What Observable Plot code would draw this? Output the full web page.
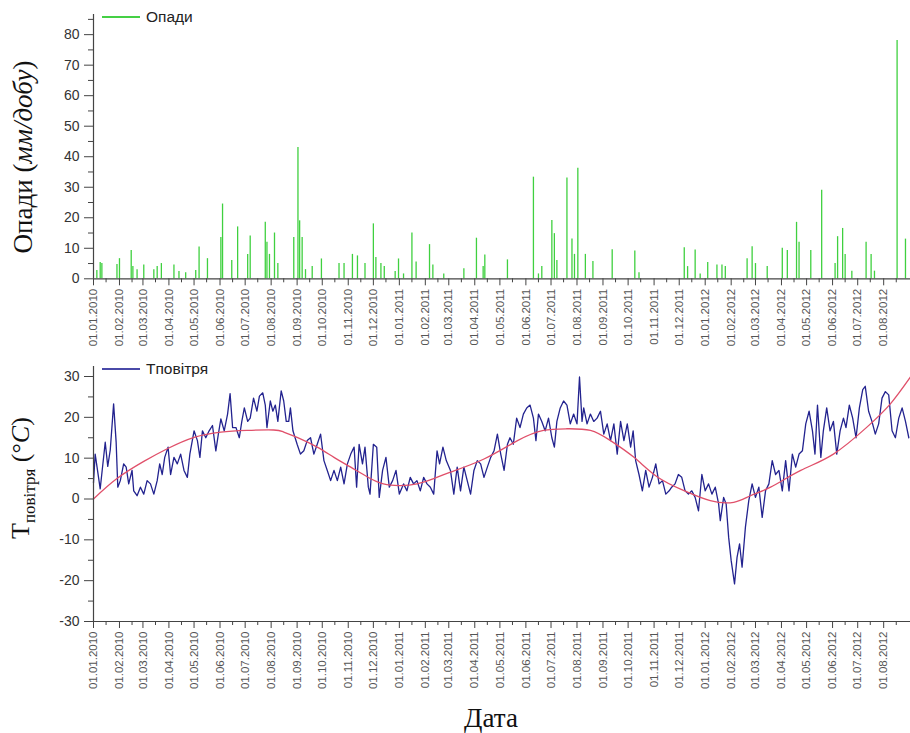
<!DOCTYPE html>
<html>
<head>
<meta charset="utf-8">
<script src="https://cdn.jsdelivr.net/npm/d3@7"></script>
<script src="https://cdn.jsdelivr.net/npm/@observablehq/plot@0.6"></script>
<style>
  body { margin: 0; background: #fff; }
  #root { position: relative; width: 910px; height: 733px; background: #fff; overflow: hidden; }
  .panel { position: absolute; left: 0; }
  .ytitle { position: absolute; transform: translate(-50%, -50%) rotate(-90deg); white-space: nowrap;
            font-family: "Liberation Serif", "Times New Roman", serif; color: #111; }
  .legend { position: absolute; font-family: "Liberation Sans", Arial, sans-serif; font-size: 15.5px; color: #222;
            display: flex; align-items: center; white-space: nowrap; }
  .legend span.sw { display: inline-block; width: 38px; height: 1.5px; margin-right: 6px; }
  #xtitle { position: absolute; left: 491px; top: 718px; transform: translate(-50%, -50%);
            font-family: "Liberation Serif", "Times New Roman", serif; font-size: 27px; color: #111; }
</style>
</head>
<body>
<div id="root">
  <div id="topPanel" class="panel" style="top:0"></div>
  <div id="bottomPanel" class="panel" style="top:360px"></div>
  <div class="ytitle" style="left:23px; top:157px; font-size:27px">Опади (<i>мм/добу</i>)</div>
  <div class="ytitle" style="left:23px; top:478px; font-size:26px">T<sub style="font-size:17px">повітря</sub> (°<i>C</i>)</div>
  <div class="legend" style="left:102px; top:8px"><span class="sw" style="background:#45d045"></span>Опади</div>
  <div class="legend" style="left:102px; top:360px"><span class="sw" style="background:#4a4aa8"></span>Tповітря</div>
  <div id="xtitle">Дата</div>
</div>
<script>
// ---- data ----
const startLabel = "01.01.2010";
const endLabel = "02.09.2012";
const monthLabels = [
  "01.01.2010","01.02.2010","01.03.2010","01.04.2010","01.05.2010","01.06.2010","01.07.2010","01.08.2010",
  "01.09.2010","01.10.2010","01.11.2010","01.12.2010","01.01.2011","01.02.2011","01.03.2011","01.04.2011",
  "01.05.2011","01.06.2011","01.07.2011","01.08.2011","01.09.2011","01.10.2011","01.11.2011","01.12.2011",
  "01.01.2012","01.02.2012","01.03.2012","01.04.2012","01.05.2012","01.06.2012","01.07.2012","01.08.2012"
];
const minorLabels = [
  "16.01.2010","16.02.2010","16.03.2010","16.04.2010","16.05.2010","16.06.2010","16.07.2010","16.08.2010",
  "16.09.2010","16.10.2010","16.11.2010","16.12.2010","16.01.2011","16.02.2011","16.03.2011","16.04.2011",
  "16.05.2011","16.06.2011","16.07.2011","16.08.2011","16.09.2011","16.10.2011","16.11.2011","16.12.2011",
  "16.01.2012","16.02.2012","16.03.2012","16.04.2012","16.05.2012","16.06.2012","16.07.2012","16.08.2012"
];
const precipTicks = [0, 10, 20, 30, 40, 50, 60, 70, 80];
const precipMinor = [5, 15, 25, 35, 45, 55, 65, 75, 85];
const tempTicks = [-30, -20, -10, 0, 10, 20, 30];
const tempMinor = [-25, -15, -5, 5, 15, 25];

// days since 01.01.2010
const precipDays = [4,8,10,28,31,45,47,52,60,72,76,81,96,102,110,122,126,136,152,154,165,172,184,187,205,207,210,216,220,
  239,244,246,249,253,261,272,293,299,309,315,324,334,337,343,347,360,364,370,380,385,401,405,418,
  442,457,465,467,494,525,531,535,547,550,553,565,571,574,578,587,596,619,646,651,705,709,718,724,733,744,750,754,
  780,786,790,804,822,828,839,842,856,869,885,888,894,897,905,922,928,932,959,969];
const precipValues = [2.7,5.3,5,4.7,6.6,9.3,4,3,4.5,3,4,5,4.5,2.4,2,2.7,10.4,6.6,13.5,24.5,6,17,8,14,18.5,12,8,15,5,
  13.5,43,19,13.5,3,4,6.5,5,5,8,7.5,5,18,7,5,4,2.4,6.5,1.6,15,5.5,11.2,4.5,1.6,
  3.3,13.3,4,7.8,6.2,33.3,1.6,4,19.1,14.8,6,33,13,8,36.2,8,5.7,9.5,9.1,2,10.2,4,9.4,1.6,5.3,4.5,4.5,4,
  6.6,10.5,5,4,10,9.3,18.5,12,9.3,29,5,13.8,16.5,8,2.5,12,8,2.5,78.1,13];

const tempDays = [0,2,8,14,17,20,24,27,29,32,36,39,42,46,48,52,56,60,64,68,72,76,79,82,85,89,92,96,100,104,108,112,115,
  120,124,127,130,134,138,142,146,149,152,156,160,163,166,170,174,177,180,184,187,191,195,198,202,205,207,211,214,217,220,
  224,227,230,233,235,238,243,247,251,255,259,263,267,271,275,279,283,287,291,295,299,303,307,311,314,317,321,324,328,330,
  334,338,341,345,349,353,357,361,365,370,374,378,382,386,390,394,398,402,406,410,413,417,421,
  426,430,434,438,442,446,450,454,458,462,466,470,474,478,482,486,490,494,497,501,505,509,513,517,521,525,528,531,535,539,
  543,547,550,553,557,561,565,569,573,577,580,583,585,589,593,597,601,605,609,613,617,621,625,629,633,637,641,644,647,651,
  655,659,663,667,671,675,679,683,687,690,694,698,702,706,710,714,718,722,726,730,734,738,742,746,748,752,755,758,761,765,
  768,771,774,778,782,786,790,794,798,802,806,810,814,818,822,826,830,834,838,842,846,850,854,858,861,864,868,871,875,879,
  883,887,891,895,898,902,906,910,914,918,921,925,929,933,937,941,945,949,953,957,961,965,969,973];
const tempValues = [4,11,2.5,13.9,8,12,23.3,14,2.9,4.5,8.6,7.8,3.7,7,2,0.8,2.9,1.2,4.5,3.7,1.2,4.5,8.6,6,10.2,12.7,6,10.2,8.6,11,7,5.3,11,
  16.7,14.3,10.2,16.7,15,16.7,18,11.8,15.9,19.6,16.7,20.8,25.8,17.5,17.5,15,19,22.3,19,19.8,24.7,21.5,25.2,26,23,17.5,24,21.5,23,19,
  26.5,24,19,19,22.3,16.7,13.4,11,11.8,14.3,15,11,13.4,15.9,9.4,7,4.5,7,4.5,7.8,3.7,8.6,11,12.7,2.9,13.4,8.6,12.7,2.9,1.2,
  13.4,12.7,0.4,7,10.2,2.9,4.5,7,1.2,3.7,2,5.3,3.7,4.5,2,5.3,3.7,2.9,1.2,11.8,8.6,12.7,9.4,
  7,1.2,7.8,2,7.8,4.5,1.2,7,9.4,8.6,5.3,7.8,10.2,11.8,15.9,11,7,13.4,15,13.4,19.8,17.5,20.8,22.3,23,19.8,14.3,20.8,19,16.7,
  19.8,15,12.7,19,22.3,24,23,18.4,20.8,18.4,29.9,19,22.3,18.4,20.8,19,19.8,21.5,15.9,18.4,14.3,18.4,11,19,14.3,18.4,12.7,16.7,9.4,6,
  2,7,2.9,5.3,8.6,3.7,4.5,1.2,2,2.9,3.7,6,5.3,2,1.2,2,0.4,-2.9,6,2,3.7,1.2,2.9,-1.2,-5.3,0.4,-1.2,-9.4,-15.1,-20.8,
  -14.3,-11,-16.7,-6.9,-0.4,3.7,0.4,2.9,-4.5,2,3.7,9.4,6,7,2,9.4,2,11,7.8,11,11.8,18.4,21.5,16.7,11,23,10.2,16.7,22.3,16.7,
  19,11,16.7,19.8,17.5,23,19.8,15,22.3,26.8,27.6,21.5,19,15.9,18.4,24.7,26.3,25.5,16.7,15,19.8,22.3,19,15];

const trendDays = [0,28,60,88,120,152,183,215,227,243,267,287,307,327,346,366,386,406,
  426,466,506,537,565,593,617,645,673,704,736,764,784,808,844,883,923,951,975];
const trendValues = [0,5.0,9.2,12.3,15.1,16.4,16.8,16.9,16.4,15.1,12.7,10.2,7.8,5.4,3.7,3.3,3.7,5.0,
  6.6,9.8,14.3,16.8,17.2,16.8,14.3,10.2,5.4,2.1,-0.4,-0.8,0.8,2.9,7,11,17.6,23.3,29.9];

// ---- tables ----
const parse = d3.utcParse("%d.%m.%Y");
const fmt = d3.utcFormat("%d.%m.%Y");
const t0 = parse(startLabel);
const t1 = parse(endLabel);
const dayToDate = d => d3.utcDay.offset(t0, d);
const months = monthLabels.map(parse);
const minors = minorLabels.map(parse);
const precip = precipDays.map((d, i) => ({date: dayToDate(d), value: precipValues[i]}));
const temps = tempDays.map((d, i) => ({date: dayToDate(d), value: tempValues[i]}));
const trend = trendDays.map((d, i) => ({date: dayToDate(d), value: trendValues[i]}));

const axisColor = "#444";
const font = "'Liberation Sans', Arial, sans-serif";
const numFmt = d => String(d);

function xAxes() {
  return [
    Plot.axisX(minors, {tickSize: 4, tickFormat: () => "", stroke: axisColor}),
    Plot.axisX(months, {tickSize: 7, tickPadding: 3, tickRotate: -90, tickFormat: fmt,
      fontSize: 11.5, fill: "#555", stroke: axisColor})
  ];
}

const topChart = Plot.plot({
  width: 910, height: 360,
  marginLeft: 93, marginRight: 0, marginTop: 14, marginBottom: 81.7,
  x: {type: "utc", domain: [t0, t1], label: null},
  y: {domain: [0, 86.6], label: null},
  style: {fontFamily: font, background: "transparent", overflow: "visible"},
  marks: [
    Plot.ruleX(precip, {x: "date", y1: 0, y2: "value", stroke: "#3fd03f", strokeWidth: 1.3}),
    Plot.ruleX([t0], {stroke: axisColor, strokeWidth: 1.2}),
    Plot.ruleY([0], {stroke: axisColor, strokeWidth: 1.2}),
    Plot.axisY(precipMinor, {tickSize: 5, tickFormat: () => "", stroke: axisColor}),
    Plot.axisY(precipTicks, {tickSize: 9, tickPadding: 5, fontSize: 14, fill: "#333", stroke: axisColor, tickFormat: numFmt}),
    ...xAxes()
  ]
});
document.getElementById("topPanel").append(topChart);

const bottomChart = Plot.plot({
  width: 910, height: 345,
  marginLeft: 93, marginRight: 0, marginTop: 6, marginBottom: 84,
  x: {type: "utc", domain: [t0, t1], label: null},
  y: {domain: [-30, 32.45], label: null},
  style: {fontFamily: font, background: "transparent", overflow: "visible"},
  marks: [
    Plot.line(temps, {x: "date", y: "value", stroke: "#23238f", strokeWidth: 1.3}),
    Plot.line(trend, {x: "date", y: "value", stroke: "#e0506a", strokeWidth: 1.3, curve: "natural"}),
    Plot.ruleX([t0], {stroke: axisColor, strokeWidth: 1.2}),
    Plot.ruleY([-30], {stroke: axisColor, strokeWidth: 1.2}),
    Plot.axisY(tempMinor, {tickSize: 5, tickFormat: () => "", stroke: axisColor}),
    Plot.axisY(tempTicks, {tickSize: 9, tickPadding: 5, fontSize: 14, fill: "#333", stroke: axisColor, tickFormat: numFmt}),
    ...xAxes()
  ]
});
document.getElementById("bottomPanel").append(bottomChart);
</script>
</body>
</html>
